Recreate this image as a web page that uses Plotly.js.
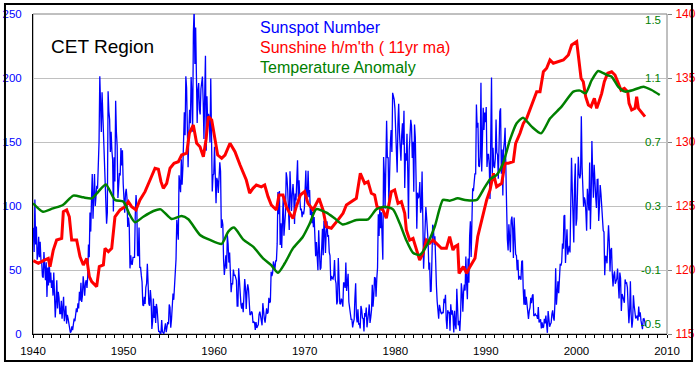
<!DOCTYPE html>
<html>
<head>
<meta charset="utf-8">
<script src="https://cdn.plot.ly/plotly-3.0.1.min.js"></script>
<style>
  html, body { margin: 0; padding: 0; background: #ffffff; }
  #chart { width: 699px; height: 366px; }
</style>
</head>
<body>
<div id="chart"></div>
<script>
// ---------- DATA ----------
// Monthly sunspot number, starting Jan 1940 (left axis)
const sunspotStartYear = 1940;
const sunspot = [
  83, 64, 105, 70, 84, 58, 62, 76, 60, 72, 58, 56,
  45, 44, 64, 50, 42, 56, 29, 52, 38, 58, 40, 48,
  36, 42, 30, 48, 28, 13, 25, 42, 20, 33, 28, 16,
  16, 26, 12, 20, 29, 10, 18, 22, 8, 15, 12, 7,
  4, 1, 2, 6, 3, 8, 12, 10, 15, 20, 17, 24,
  20, 33, 26, 40, 25, 30, 45, 33, 30, 40, 42, 36,
  45, 70, 60, 95, 80, 105, 125, 90, 110, 125, 100, 115,
  115.7, 113.4, 129.8, 149.8, 201.3, 163.9, 157.9, 188.8, 169.4, 163.6, 128.0, 116.5,
  108.5, 86.1, 94.8, 189.7, 174.0, 167.8, 142.2, 157.9, 143.3, 136.3, 95.8, 138.0,
  119.1, 182.3, 157.5, 147.0, 106.2, 121.7, 125.8, 123.8, 145.3, 131.6, 143.5, 117.6,
  101.6, 94.8, 109.7, 113.4, 106.2, 83.6, 91.0, 85.2, 51.3, 61.4, 54.8, 54.1,
  59.9, 59.9, 59.9, 92.9, 108.5, 100.6, 61.5, 61.0, 83.1, 51.6, 52.4, 45.8,
  40.7, 22.7, 22.0, 29.1, 23.4, 36.4, 39.3, 54.9, 28.2, 23.8, 22.1, 34.3,
  26.5, 3.9, 10.0, 27.8, 12.5, 21.8, 8.6, 23.5, 19.3, 8.2, 1.6, 2.5,
  0.2, 0.5, 10.9, 1.8, 0.8, 0.2, 4.8, 8.4, 1.5, 7.0, 9.2, 7.6,
  23.1, 20.8, 4.9, 11.3, 28.9, 31.7, 26.7, 40.7, 42.7, 58.5, 89.2, 76.9,
  73.6, 124.0, 118.4, 110.7, 136.6, 116.6, 129.1, 169.6, 173.2, 155.3, 201.3, 192.1,
  165.0, 130.2, 157.4, 175.2, 164.6, 200.7, 187.2, 158.0, 235.8, 253.8, 210.9, 239.4,
  202.5, 164.9, 190.7, 196.0, 175.3, 171.5, 191.4, 200.2, 201.2, 181.5, 152.3, 187.6,
  217.4, 143.1, 185.7, 163.3, 172.0, 168.7, 149.6, 199.6, 145.2, 111.4, 124.0, 125.0,
  146.3, 106.0, 102.2, 122.0, 119.6, 110.2, 121.7, 134.1, 127.2, 82.8, 89.6, 85.6,
  57.9, 46.1, 53.0, 61.4, 51.0, 77.4, 70.2, 55.8, 63.6, 37.7, 32.6, 39.9,
  38.7, 50.3, 45.6, 46.4, 43.7, 42.0, 21.8, 21.8, 51.3, 39.5, 26.9, 23.2,
  19.8, 24.4, 17.1, 29.3, 43.0, 35.9, 19.6, 33.2, 38.8, 35.3, 23.4, 14.9,
  15.3, 17.7, 16.5, 8.6, 9.5, 9.1, 3.1, 9.3, 4.7, 6.1, 7.4, 15.1,
  17.5, 14.2, 11.7, 6.8, 24.1, 15.9, 11.9, 8.9, 16.8, 20.1, 15.8, 17.0,
  28.2, 24.4, 25.3, 48.7, 45.3, 47.7, 56.7, 51.2, 50.2, 57.2, 57.2, 70.4,
  110.9, 93.6, 111.8, 69.5, 86.5, 67.3, 91.5, 107.2, 76.8, 88.2, 94.3, 126.4,
  121.8, 111.9, 92.2, 81.2, 127.2, 110.3, 96.1, 109.3, 117.2, 107.7, 86.0, 109.8,
  104.4, 120.5, 135.8, 106.8, 120.0, 106.0, 96.8, 98.0, 91.3, 95.7, 93.5, 97.9,
  111.5, 127.8, 102.9, 109.5, 127.5, 106.8, 112.5, 93.0, 99.5, 86.6, 95.2, 83.5,
  91.3, 79.0, 60.7, 71.8, 57.5, 49.8, 81.0, 61.4, 50.2, 51.7, 63.2, 82.2,
  61.5, 88.4, 80.1, 63.2, 80.5, 88.0, 76.5, 76.8, 64.0, 61.3, 41.6, 45.3,
  43.4, 42.9, 46.0, 57.7, 42.4, 39.5, 23.1, 25.6, 59.3, 30.7, 23.9, 23.3,
  27.6, 26.0, 21.3, 40.3, 39.5, 36.0, 55.8, 33.6, 40.2, 47.1, 25.0, 20.5,
  18.9, 11.5, 11.5, 5.1, 9.0, 11.4, 28.2, 39.7, 13.9, 9.1, 19.4, 7.8,
  8.1, 4.3, 21.9, 18.8, 12.4, 12.2, 1.9, 16.4, 13.5, 20.6, 5.2, 15.3,
  16.4, 23.1, 8.7, 12.9, 18.6, 38.5, 21.4, 30.1, 44.0, 43.8, 29.1, 43.2,
  51.9, 93.6, 76.5, 99.7, 82.7, 95.1, 70.4, 58.1, 138.2, 125.1, 97.9, 122.7,
  166.6, 137.5, 138.0, 101.5, 134.4, 149.5, 159.4, 142.2, 188.4, 186.2, 183.3, 176.3,
  159.6, 155.0, 126.2, 164.1, 179.9, 157.3, 136.3, 135.4, 155.0, 164.7, 147.9, 174.4,
  114.0, 141.3, 135.5, 156.4, 127.5, 90.0, 143.8, 158.7, 167.3, 162.4, 137.5, 150.1,
  111.2, 163.6, 153.8, 122.0, 82.2, 110.4, 106.1, 107.6, 118.8, 94.7, 98.1, 127.0,
  84.3, 51.0, 66.5, 80.7, 99.2, 91.1, 82.2, 71.8, 50.3, 55.8, 33.3, 33.4,
  57.0, 85.4, 83.5, 69.7, 76.4, 46.1, 37.4, 25.5, 15.7, 12.0, 22.8, 18.7,
  16.5, 15.9, 17.2, 16.2, 27.5, 24.2, 30.7, 11.1, 3.9, 18.6, 16.2, 17.3,
  2.5, 23.2, 15.1, 18.5, 13.7, 1.1, 18.1, 7.4, 3.8, 35.4, 15.2, 6.8,
  10.4, 2.4, 14.7, 39.6, 33.0, 17.4, 33.0, 38.7, 33.9, 60.6, 39.9, 27.1,
  59.0, 40.0, 76.2, 88.0, 60.1, 101.8, 113.8, 111.6, 120.1, 125.1, 125.1, 179.2,
  161.3, 165.1, 131.4, 130.6, 138.5, 196.2, 126.9, 168.9, 176.7, 159.4, 173.0, 165.5,
  177.3, 130.5, 140.3, 140.3, 132.2, 105.4, 149.4, 200.3, 125.2, 145.5, 131.4, 129.7,
  136.9, 167.5, 141.9, 140.0, 121.3, 169.7, 173.7, 176.3, 125.3, 144.1, 108.2, 144.4,
  150.0, 161.1, 106.7, 99.8, 73.8, 65.2, 85.7, 64.5, 63.9, 88.7, 91.8, 82.6,
  59.3, 91.0, 69.8, 62.2, 61.3, 49.8, 57.9, 42.4, 45.3, 43.8, 42.4, 56.6,
  57.4, 35.1, 22.8, 35.0, 22.7, 29.1, 23.4, 16.0, 11.8, 18.0, 20.5, 28.2,
  24.1, 29.9, 31.1, 14.0, 14.5, 15.6, 14.5, 14.3, 11.8, 21.1, 9.0, 10.0,
  11.5, 4.4, 9.2, 4.8, 5.5, 11.8, 8.2, 14.4, 1.6, 0.9, 17.9, 13.3,
  5.7, 7.6, 8.7, 15.5, 18.5, 12.7, 10.4, 24.4, 51.3, 22.8, 39.0, 41.2,
  31.9, 40.3, 54.8, 53.4, 56.3, 70.7, 66.6, 92.2, 92.9, 55.5, 74.0, 81.9,
  62.0, 66.3, 68.8, 63.7, 106.4, 137.7, 113.5, 93.7, 71.5, 116.7, 133.2, 84.6,
  90.1, 112.9, 138.5, 125.5, 121.6, 124.9, 170.1, 130.5, 109.7, 99.4, 106.8, 104.4,
  95.6, 80.6, 113.5, 107.7, 96.6, 134.0, 81.8, 106.4, 150.7, 125.5, 106.5, 132.2,
  114.1, 107.4, 98.4, 120.7, 120.8, 88.3, 99.6, 116.4, 109.6, 97.5, 95.5, 80.8,
  79.7, 46.0, 61.1, 60.0, 55.2, 77.4, 85.0, 72.7, 48.8, 65.6, 67.2, 47.0,
  37.2, 46.0, 48.9, 39.3, 41.5, 43.2, 51.1, 40.9, 27.7, 48.0, 43.5, 17.9,
  31.3, 29.2, 24.5, 24.4, 42.6, 39.6, 39.9, 36.4, 22.1, 8.5, 18.0, 41.2,
  15.3, 4.9, 10.6, 30.2, 22.3, 13.9, 12.2, 12.9, 14.4, 10.5, 21.4, 13.6,
  16.9, 10.6, 4.8, 3.7, 11.7, 12.0, 10.0, 6.2
];

// Sunshine hours per month, 11-year moving average (outer right axis)
const sunshineYears = [
  1940.04, 1940.59, 1941.14, 1941.69, 1941.88, 1942.24, 1942.61, 1943.17, 1943.35, 1943.72,
  1944.01, 1944.27, 1944.82, 1945.19, 1945.56, 1945.93, 1946.22, 1946.48, 1947.03, 1947.32,
  1947.77, 1947.95, 1948.32, 1948.69, 1949.05, 1949.61, 1950.16, 1950.53, 1950.89, 1951.37,
  1951.81, 1952.37, 1952.92, 1953.47, 1953.84, 1954.13, 1954.39, 1954.76, 1955.13, 1955.57,
  1956.05, 1956.41, 1956.97, 1957.26, 1957.70, 1958.07, 1958.44, 1958.81, 1959.10, 1959.36,
  1959.73, 1960.09, 1960.39, 1960.83, 1961.20, 1961.75, 1962.30, 1962.86,
  1963.19, 1963.55, 1963.92, 1964.29, 1964.66, 1965.21, 1965.58, 1965.95, 1966.31, 1966.87,
  1967.16, 1967.60, 1967.97, 1968.34, 1968.71, 1969.07, 1969.52, 1969.99, 1970.36, 1970.92,
  1971.58, 1972.02, 1972.39, 1972.94, 1973.68, 1974.23, 1974.60, 1975.15, 1975.70, 1976.14,
  1976.62, 1976.99, 1977.36, 1977.72, 1977.98, 1978.28, 1978.64, 1979.01, 1979.56, 1979.93,
  1980.30, 1980.67, 1981.04, 1981.22, 1981.59, 1981.96, 1982.32, 1982.69, 1983.06, 1983.43,
  1983.80, 1984.16, 1984.53, 1985.09, 1985.64, 1986.00, 1986.37,
  1986.59, 1986.89, 1987.04, 1987.51, 1987.88, 1988.25, 1988.80, 1989.10, 1989.54, 1990.09,
  1990.46, 1990.83, 1991.19, 1991.75, 1992.11, 1992.48, 1993.03, 1993.29, 1993.77, 1994.14,
  1994.51, 1994.87, 1995.24, 1995.61, 1995.98, 1996.35, 1996.71, 1997.08, 1997.45, 1998.00,
  1998.56, 1999.11, 1999.47, 2000.03, 2000.21, 2000.51, 2000.76, 2001.02, 2001.32, 2001.61,
  2001.98, 2002.24, 2002.49, 2002.79, 2003.08, 2003.45, 2003.89, 2004.26, 2004.63, 2004.92,
  2005.29, 2005.66, 2005.81, 2006.10, 2006.47, 2006.65, 2006.84, 2007.13, 2007.57
];
const sunshine = [
  120.73, 120.52, 120.73, 120.91, 120.26, 121.56, 122.34, 122.47, 124.55, 124.69,
  124.16, 122.34, 122.34, 121.04, 120.39, 120.91, 119.48, 119.09, 118.70, 120.26,
  120.39, 121.69, 121.43, 121.69, 124.16, 124.69, 124.95, 125.34, 124.95, 124.69,
  125.47, 126.12, 127.03, 127.95, 127.87, 126.90, 126.38, 126.77, 127.95, 128.34,
  128.46, 128.98, 129.12, 130.68, 131.33, 129.90, 129.63, 128.85, 130.16, 131.98,
  131.72, 130.16, 128.98, 128.73, 128.98, 129.90, 129.24, 128.20,
  127.68, 127.03, 126.00, 126.38, 126.64, 126.50, 126.64, 125.73, 125.08, 124.69,
  125.86, 125.86, 124.95, 124.43, 124.04, 124.95, 125.86, 126.12, 125.21, 124.69,
  125.60, 124.69, 123.38, 123.26, 123.91, 124.43, 125.08, 125.34, 125.60, 127.55,
  126.77, 126.90, 125.99, 125.86, 124.95, 124.82, 124.69, 124.04, 126.12, 126.25,
  125.21, 125.34, 124.43, 123.13, 122.34, 122.47, 121.56, 120.78, 121.30, 122.34,
  122.09, 122.34, 122.09, 121.69, 121.69, 122.60, 121.56,
  121.82, 121.95, 119.74, 120.26, 119.74, 120.26, 120.91, 122.60, 123.91, 125.47,
  126.25, 127.55, 126.50, 126.77, 128.34, 128.34, 128.46, 129.90, 130.68, 131.46,
  131.85, 132.50, 133.28, 133.93, 133.93, 135.49, 135.76, 136.41, 136.15, 136.28,
  136.41, 136.80, 137.58, 137.84, 136.66, 134.98, 134.71, 133.54, 132.89, 132.76,
  133.41, 132.63, 133.15, 133.80, 134.71, 135.37, 135.49, 135.23, 134.58, 134.06,
  134.20, 133.93, 133.02, 132.50, 132.63, 133.54, 132.63, 132.37, 131.98
];

// Temperature anomaly (inner right axis)
const tempYears = [
  1940.0, 1941.1, 1942.2, 1943.3, 1944.45, 1945.55, 1946.5, 1947.2, 1948.05, 1949.05,
  1950.0, 1950.6, 1951.26, 1952.18, 1953.3, 1954.1, 1955.3, 1956.4, 1957.15, 1958.44,
  1959.54, 1960.83, 1961.56, 1962.19, 1963.22, 1964.3, 1965.4, 1966.3, 1967.05, 1967.8,
  1968.7, 1969.8, 1970.55, 1971.28, 1972.4, 1973.3, 1974.2, 1975.7, 1977.0, 1977.9,
  1978.8, 1979.75, 1980.5, 1981.2, 1981.95, 1982.7, 1983.4, 1984.35, 1985.27, 1986.0,
  1986.9, 1987.7, 1989.0, 1989.7, 1990.45, 1991.2, 1991.9, 1992.66, 1993.4, 1994.1,
  1995.06, 1996.1, 1997.1, 1998.36, 1999.66, 2000.4, 2001.0, 2001.7, 2002.4, 2003.35,
  2003.9, 2004.6, 2005.36, 2006.28, 2007.38, 2008.3, 2009.2
];
const temperature = [
  0.317, 0.264, 0.285, 0.306, 0.365, 0.354, 0.348, 0.389, 0.435, 0.338,
  0.327, 0.254, 0.198, 0.233, 0.269, 0.279, 0.219, 0.238, 0.217, 0.119,
  0.088, 0.063, 0.140, 0.165, 0.090, 0.046, -0.027, -0.069, -0.117, -0.058,
  0.035, 0.108, 0.190, 0.281, 0.258, 0.223, 0.185, 0.213, 0.217, 0.279,
  0.296, 0.279, 0.190, 0.088, 0.008, -0.006, 0.046, 0.170, 0.338, 0.333,
  0.348, 0.338, 0.338, 0.400, 0.467, 0.494, 0.567, 0.713, 0.817, 0.852,
  0.796, 0.754, 0.848, 0.921, 1.015, 1.021, 1.004, 1.088, 1.144, 1.119,
  1.108, 1.046, 1.015, 1.025, 1.046, 1.025, 0.994
];

// Tick labels
const xTicks = [1940, 1950, 1960, 1970, 1980, 1990, 2000, 2010];
const sunspotTicks = [0, 50, 100, 150, 200, 250];
const sunshineTicks = [115, 120, 125, 130, 135, 140];
const tempTicks = [-0.5, -0.1, 0.3, 0.7, 1.1, 1.5];
const tempTickText = ["-0.5", "-0.1", "0.3", "0.7", "1.1", "1.5"];

// ---------- CHART ----------
const FONT = "'Liberation Sans', Arial, Helvetica, sans-serif";
const sunspotX = sunspot.map((_, i) => sunspotStartYear + (i + 0.5) / 12);

const traces = [
  { x: sunspotX, y: sunspot, type: 'scatter', mode: 'lines', yaxis: 'y',
    line: { color: '#0000ff', width: 1.3 }, name: 'Sunspot Number', hoverinfo: 'skip' },
  { x: sunshineYears, y: sunshine, type: 'scatter', mode: 'lines', yaxis: 'y2',
    line: { color: '#ff0000', width: 3 }, name: 'Sunshine', hoverinfo: 'skip' },
  { x: tempYears, y: temperature, type: 'scatter', mode: 'lines', yaxis: 'y3',
    line: { color: '#008000', width: 2.5, shape: 'spline', smoothing: 0.6 }, name: 'Temperature', hoverinfo: 'skip' }
];

const annotations = [
  { text: 'CET Region', xref: 'paper', yref: 'paper', x: 0.0252, y: 0.897, xanchor: 'left', yanchor: 'middle',
    showarrow: false, font: { family: FONT, size: 19, color: '#000000' } },
  { text: 'Sunspot Number', xref: 'paper', yref: 'paper', x: 0.3549, y: (334 - 27) / 320, xanchor: 'left', yanchor: 'middle',
    showarrow: false, font: { family: FONT, size: 16, color: '#0000ff' } },
  { text: "Sunshine h/m'th ( 11yr ma)", xref: 'paper', yref: 'paper', x: 0.3549, y: (334 - 48) / 320, xanchor: 'left', yanchor: 'middle',
    showarrow: false, font: { family: FONT, size: 16, color: '#ff0000' } },
  { text: 'Temperature Anomaly', xref: 'paper', yref: 'paper', x: 0.3549, y: (334 - 67) / 320, xanchor: 'left', yanchor: 'middle',
    showarrow: false, font: { family: FONT, size: 16, color: '#008000' } }
];
tempTicks.forEach((t, i) => {
  let shift = 0;
  if (i === 0) shift = 10;
  if (i === tempTicks.length - 1) shift = -6;
  annotations.push({ text: tempTickText[i], xref: 'paper', yref: 'y3', x: 1, y: t,
    xanchor: 'right', yanchor: 'middle', xshift: -4, yshift: shift, showarrow: false,
    font: { family: FONT, size: 11.5, color: '#008000' } });
});

const layout = {
  width: 699, height: 366,
  margin: { l: 33, r: 32, t: 14, b: 32, pad: 0 },
  paper_bgcolor: '#ffffff', plot_bgcolor: '#ffffff',
  showlegend: false,
  font: { family: FONT, size: 11.5, color: '#000000' },
  xaxis: {
    range: [1940, 2010], tickvals: xTicks, ticktext: xTicks.map(String),
    ticks: 'outside', ticklen: 3, tickwidth: 1, tickcolor: '#000000',
    minor: { dtick: 1, tick0: 1940, ticks: 'outside', ticklen: 3, tickcolor: '#000000', showgrid: false },
    showline: true, linecolor: '#000000', linewidth: 1,
    showgrid: false, zeroline: false, ticklabelstandoff: 3,
    tickfont: { family: FONT, size: 11.5, color: '#000000' }, fixedrange: true
  },
  yaxis: {
    range: [0, 250], tickvals: sunspotTicks, ticktext: sunspotTicks.map(String),
    ticks: '', showline: true, linecolor: '#000000', linewidth: 1,
    showgrid: true, gridcolor: '#c0c0c0', gridwidth: 1, zeroline: false,
    ticklabelstandoff: 8,
    tickfont: { family: FONT, size: 11.5, color: '#0000ff' }, fixedrange: true
  },
  yaxis2: {
    range: [115, 140], tickvals: sunshineTicks, ticktext: sunshineTicks.map(String),
    overlaying: 'y', side: 'right', anchor: 'x',
    ticks: 'outside', ticklen: 4, tickcolor: '#808080',
    showline: false, showgrid: false, zeroline: false, ticklabelstandoff: 1,
    tickfont: { family: FONT, size: 12, color: '#ff0000' }, fixedrange: true
  },
  yaxis3: {
    range: [-0.5, 1.5], overlaying: 'y', side: 'right', anchor: 'x',
    showticklabels: false, ticks: '', showline: false, showgrid: false, zeroline: false, fixedrange: true
  },
  shapes: [
    { type: 'rect', xref: 'paper', yref: 'paper', x0: 0, x1: 1, y0: 0, y1: 1,
      line: { color: '#808080', width: 1 }, layer: 'below' },
    { type: 'rect', xref: 'paper', yref: 'paper', x0: -0.0442, x1: 1.0394, y0: -0.0844, y1: 1.0313,
      line: { color: '#000000', width: 2 }, layer: 'above' }
  ],
  annotations: annotations
};

Plotly.newPlot('chart', traces, layout, { staticPlot: true, displayModeBar: false });
</script>
</body>
</html>
